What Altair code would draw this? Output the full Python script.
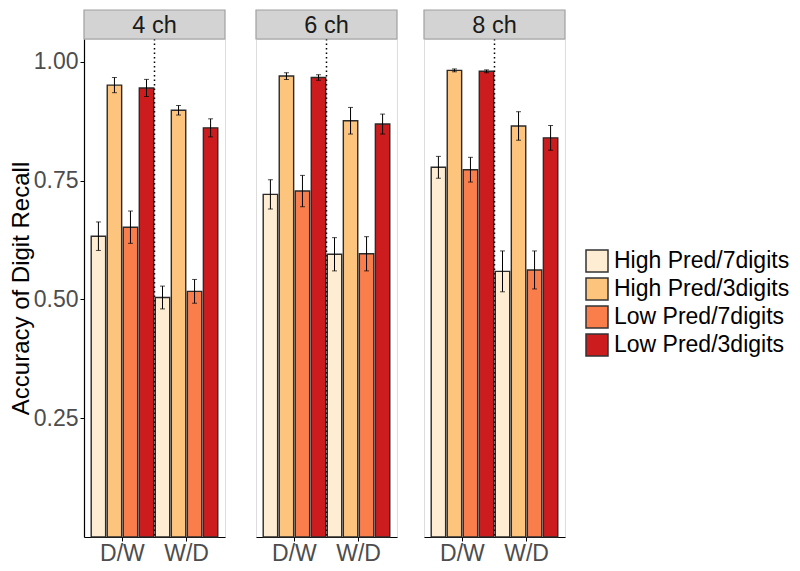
import altair as alt
import pandas as pd

panels = ["4 ch", "6 ch", "8 ch"]
orders = ["D/W", "W/D"]
conditions = ["High Pred/7digits", "High Pred/3digits", "Low Pred/7digits", "Low Pred/3digits"]
colors = ["#FEEDD2", "#FDC47E", "#F97E4C", "#CC1C1E"]

# accuracy per panel, order D/W then W/D, conditions in the order above
acc_4ch_dw = [0.633, 0.951, 0.652, 0.945]
acc_4ch_wd = [0.504, 0.898, 0.517, 0.861]
acc_6ch_dw = [0.721, 0.970, 0.728, 0.967]
acc_6ch_wd = [0.595, 0.876, 0.596, 0.869]
acc_8ch_dw = [0.778, 0.982, 0.773, 0.980]
acc_8ch_wd = [0.559, 0.865, 0.562, 0.840]

# half-width of error bars
err_4ch_dw = [0.030, 0.016, 0.034, 0.018]
err_4ch_wd = [0.024, 0.010, 0.025, 0.019]
err_6ch_dw = [0.031, 0.007, 0.033, 0.006]
err_6ch_wd = [0.035, 0.028, 0.036, 0.021]
err_8ch_dw = [0.023, 0.003, 0.026, 0.003]
err_8ch_wd = [0.043, 0.030, 0.040, 0.026]

acc_sets = {"4 ch": (acc_4ch_dw, acc_4ch_wd), "6 ch": (acc_6ch_dw, acc_6ch_wd), "8 ch": (acc_8ch_dw, acc_8ch_wd)}
err_sets = {"4 ch": (err_4ch_dw, err_4ch_wd), "6 ch": (err_6ch_dw, err_6ch_wd), "8 ch": (err_8ch_dw, err_8ch_wd)}

rows = []
for p in panels:
    for oi, o in enumerate(orders):
        for ci, c in enumerate(conditions):
            a = acc_sets[p][oi][ci]
            e = err_sets[p][oi][ci]
            rows.append({"panel": p, "order": o, "cond": c, "acc": a, "lo": a - e, "hi": a + e})
df = pd.DataFrame(rows)

FONT = "Liberation Sans"
W, H = 141, 498
STRIP = 29
ydom = [0, 1.048]
FS = 23


def make_panel(name, first):
    d = df[df["panel"] == name]
    xscale = alt.Scale(domain=orders, paddingInner=0, paddingOuter=0.1)
    xaxis = alt.Axis(labelAngle=0, labelFontSize=FS, labelColor="#4D4D4D", labelFont=FONT,
                     tickColor="black", tickSize=4, domainColor="black", domainWidth=1.2,
                     labelPadding=1, title=None)
    x = alt.X("order:N", sort=orders, scale=xscale, axis=xaxis, title=None)
    xoff = alt.XOffset("cond:N", sort=conditions,
                       scale=alt.Scale(domain=conditions, paddingInner=0.1, paddingOuter=0.05))
    if first:
        yaxis = alt.Axis(values=[0.25, 0.5, 0.75, 1.0], format=".2f", labelFontSize=FS,
                         labelColor="#4D4D4D", labelFont=FONT, tickColor="black", tickSize=4,
                         domainColor="black", domainWidth=1.2, grid=False, labelPadding=2,
                         title="Accuracy of Digit Recall", titleFontSize=24, titleFont=FONT,
                         titleFontWeight="normal", titleColor="black", titlePadding=0)
    else:
        yaxis = None
    yscale = alt.Scale(domain=ydom, nice=False, zero=False)

    bars = alt.Chart(d).mark_bar(stroke="#2B2B2B", strokeWidth=1.4).encode(
        x=x, xOffset=xoff,
        y=alt.Y("acc:Q", scale=yscale, axis=yaxis),
        color=alt.Color("cond:N", sort=conditions,
                        scale=alt.Scale(domain=conditions, range=colors),
                        legend=alt.Legend(title=None, orient="none", legendX=501, legendY=210,
                                          symbolType="square", symbolSize=484,
                                          symbolStrokeColor="#333333", symbolStrokeWidth=1.5,
                                          symbolOpacity=1, labelFontSize=FS, labelFont=FONT,
                                          labelColor="black", rowPadding=0, labelOffset=5,
                                          padding=0, labelLimit=400)),
    )
    ebar = alt.Chart(d).mark_rule(color="black", strokeWidth=1).encode(
        x=x, xOffset=xoff,
        y=alt.Y("lo:Q", scale=yscale), y2="hi:Q",
    )
    cap_lo = alt.Chart(d).mark_tick(color="black", thickness=1, size=5, orient="horizontal").encode(
        x=x, xOffset=xoff, y=alt.Y("lo:Q", scale=yscale))
    cap_hi = alt.Chart(d).mark_tick(color="black", thickness=1, size=5, orient="horizontal").encode(
        x=x, xOffset=xoff, y=alt.Y("hi:Q", scale=yscale))

    sep = alt.Chart(pd.DataFrame({"order": ["W/D"]})).mark_rule(
        color="black", strokeWidth=1.5, strokeDash=[1.5, 3]).encode(
        x=alt.X("order:N", sort=orders, scale=xscale, axis=xaxis, bandPosition=0, title=None))

    strip_df = pd.DataFrame({"panel": [name]})
    strip = alt.Chart(strip_df).mark_rect(fill="#D3D3D3", stroke="#A0A0A0", strokeWidth=1.2).encode(
        x=alt.value(0), x2=alt.value(W), y=alt.value(-STRIP), y2=alt.value(0))
    strip_text = alt.Chart(strip_df).mark_text(font=FONT, fontSize=23.5, color="#1A1A1A",
                                               baseline="middle", align="center").encode(
        x=alt.value(W / 2), y=alt.value(-STRIP / 2 + 1), text="panel:N")

    return alt.layer(bars, ebar, cap_lo, cap_hi, sep, strip, strip_text).properties(width=W, height=H)


p1, p2, p3 = [make_panel(p, i == 0) for i, p in enumerate(panels)]
chart = alt.hconcat(alt.hconcat(p1, p2, spacing=27), p3, spacing=23).properties(
    padding=0
).configure_view(stroke="#A0A0A0", strokeWidth=1.2).configure(font=FONT)

chart.save("out.html", embed_options={"renderer": "svg", "actions": False})
